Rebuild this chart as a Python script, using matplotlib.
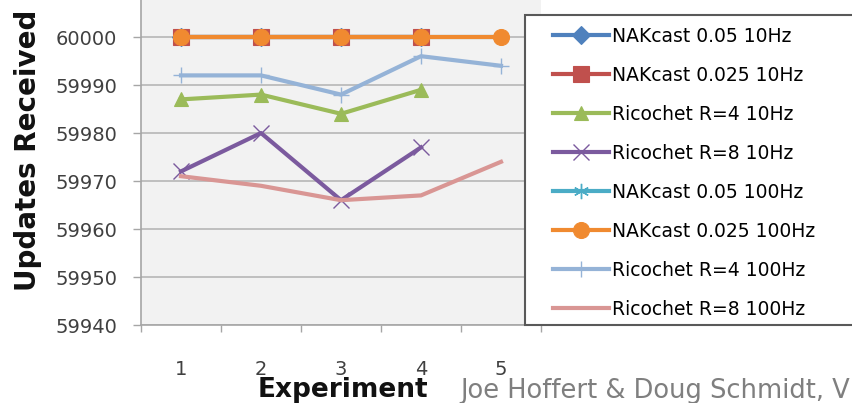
import matplotlib
matplotlib.use('Agg')
import matplotlib.pyplot as plt
from matplotlib.patches import Rectangle

experiments = [1, 2, 3, 4, 5]

series_names = [
    'NAKcast 0.05 10Hz',
    'NAKcast 0.025 10Hz',
    'Ricochet R=4 10Hz',
    'Ricochet R=8 10Hz',
    'NAKcast 0.05 100Hz',
    'NAKcast 0.025 100Hz',
    'Ricochet R=4 100Hz',
    'Ricochet R=8 100Hz',
]

nak005_10 = [60000, 60000, 60000, 60000]
nak0025_10 = [60000, 60000, 60000, 60000]
ric4_10 = [59987, 59988, 59984, 59989]
ric8_10 = [59972, 59980, 59966, 59977]
nak005_100 = [60000, 60000, 60000, 60000, 60000]
nak0025_100 = [60000, 60000, 60000, 60000, 60000]
ric4_100 = [59992, 59992, 59988, 59996, 59994]
ric8_100 = [59971, 59969, 59966, 59967, 59974]

series_values = [nak005_10, nak0025_10, ric4_10, ric8_10,
                 nak005_100, nak0025_100, ric4_100, ric8_100]

# excel 2007 style colours / markers
colors = ['#4F81BD', '#C0504D', '#9BBB59', '#7B5A9E',
          '#4BACC6', '#F08A30', '#95B3D7', '#D99694']
markers = ['D', 's', '^', 'x', (6, 2, 0), 'o', '+', None]
msizes = [9, 11, 10, 11, 11, 11.5, 12, 0]

plt.rcParams['font.family'] = ['DejaVu Sans']

fig = plt.figure(figsize=(8.52, 4.03), dpi=100)
W, H = 852, 403
ax = fig.add_axes([141 / W, 1 - 325 / H, 400 / W, 325 / H])
ax.set_facecolor('#f2f2f2')

for name, vals, c, m, ms in zip(series_names, series_values, colors, markers, msizes):
    xs = experiments[:len(vals)]
    ax.plot(xs, vals, color=c, lw=3.0, marker=m, markersize=ms,
            markeredgewidth=1.0 if m in ('x', '+', (6, 2, 0)) else 0.8,
            markeredgecolor=c, label=name, clip_on=False, zorder=3)

ax.set_xlim(0.5, 5.5)
ax.set_ylim(59940, 60000 + 37 / 4.8)
ax.set_yticks(range(59940, 60001, 10))
ax.set_xticks(experiments)
ax.set_xticks([0.5, 1.5, 2.5, 3.5, 4.5, 5.5], minor=True)
ax.tick_params(axis='x', which='major', length=0, pad=25, labelsize=14, labelcolor='#404040')
ax.tick_params(axis='x', which='minor', length=5, width=1, color='#a6a6a6', direction='out')
ax.tick_params(axis='y', length=6, width=1, color='#a6a6a6', pad=11, labelsize=14, labelcolor='#404040')
ax.grid(axis='y', color='#bfbfbf', lw=1.4, zorder=0)
ax.set_axisbelow(True)
for s in ('top', 'right'):
    ax.spines[s].set_visible(False)
for s in ('left', 'bottom'):
    ax.spines[s].set_color('#a6a6a6')
    ax.spines[s].set_linewidth(1.2)

fig.text(28 / W, 1 - 150 / H, 'Updates Received', rotation=90, fontsize=20,
         fontweight='bold', ha='center', va='center', color='#111111')
fig.text(343 / W, 1 - 390 / H, 'Experiment', fontsize=19, fontweight='bold',
         ha='center', va='center', color='#111111')
fig.text(460 / W, 1 - 398 / H, 'Joe Hoffert & Doug Schmidt, V',
         fontsize=18.5, color='#7f7f7f', ha='left', va='baseline')

# legend box sits over the right part of the plot area
fig.patches.append(Rectangle((525 / W, 1 - 325 / H), 400 / W, 310 / H,
                             transform=fig.transFigure, facecolor='white',
                             edgecolor='#595959', lw=1.5, zorder=5))
leg = fig.legend(loc='upper left', bbox_to_anchor=(545 / W, 1 - 19 / H),
                 frameon=False, fontsize=13.5, handlelength=3.0,
                 handletextpad=0.15, labelspacing=1.07, borderaxespad=0)
leg.set_zorder(6)

fig.savefig('out.png', dpi=100, facecolor='white')
